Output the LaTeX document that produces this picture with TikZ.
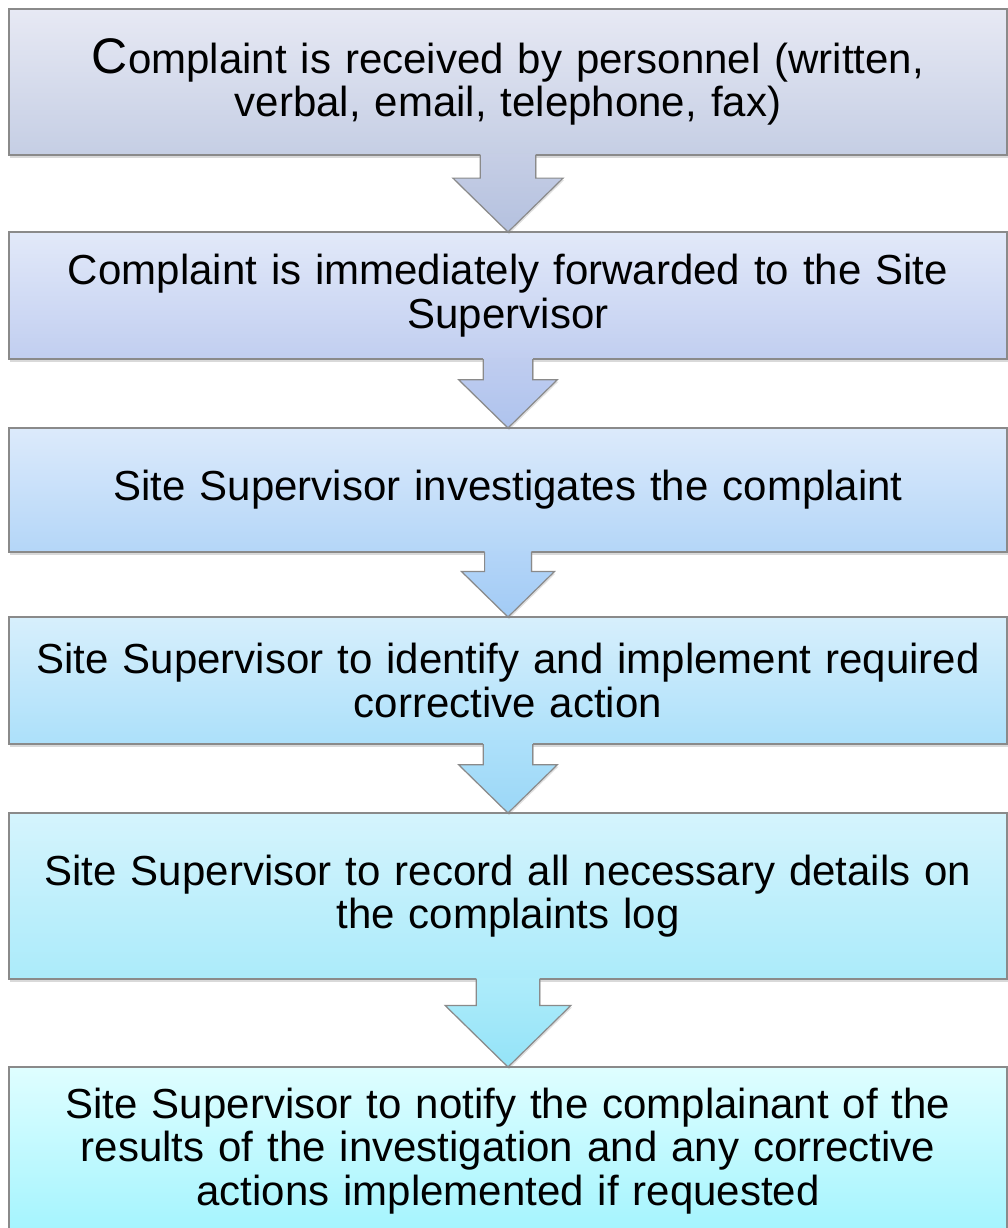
\documentclass[tikz,border=0pt]{standalone}
\usepackage{fontspec}
\setmainfont{Liberation Sans}
\usetikzlibrary{positioning, calc, shadows}
\definecolor{boxline}{HTML}{8A8A8A}
\definecolor{topA}{HTML}{E7E9F4}
\definecolor{botA}{HTML}{C5CEE4}
\definecolor{topB}{HTML}{E2E9F9}
\definecolor{botB}{HTML}{C1CEF0}
\definecolor{topC}{HTML}{DCEAFB}
\definecolor{botC}{HTML}{B4D6F8}
\definecolor{topD}{HTML}{D7EFFC}
\definecolor{botD}{HTML}{ACE0FA}
\definecolor{topE}{HTML}{D5F4FD}
\definecolor{botE}{HTML}{ABEBFA}
\definecolor{topF}{HTML}{DFFEFF}
\definecolor{botF}{HTML}{A3F4FE}
\definecolor{arrtop1}{HTML}{C6CEE5}
\definecolor{arrbot1}{HTML}{B4C1DF}
\definecolor{arrtop2}{HTML}{C0CDEF}
\definecolor{arrbot2}{HTML}{AEC3EE}
\definecolor{arrtop3}{HTML}{B4D5F8}
\definecolor{arrbot3}{HTML}{A2CBF5}
\definecolor{arrtop4}{HTML}{ADE0FA}
\definecolor{arrbot4}{HTML}{9BD7F7}
\definecolor{arrtop5}{HTML}{AEECFA}
\definecolor{arrbot5}{HTML}{94E3F8}
\tikzset{
  procbox/.style = {draw=boxline, line width=0.6pt, outer sep=0pt,
                    minimum width=499pt, text width=497pt, inner xsep=1pt,
                    align=center, font=\fontsize{21}{21.75}\selectfont,
                    drop shadow={opacity=0.3, shadow xshift=0.6pt, shadow yshift=-1.6pt}},
  procA/.style = {procbox, top color=topA, bottom color=botA, minimum height=73pt},
  procB/.style = {procbox, top color=topB, bottom color=botB, minimum height=63.5pt},
  procC/.style = {procbox, top color=topC, bottom color=botC, minimum height=62pt},
  procD/.style = {procbox, top color=topD, bottom color=botD, minimum height=63.5pt},
  procE/.style = {procbox, top color=topE, bottom color=botE, minimum height=83pt},
  procF/.style = {procbox, top color=topF, bottom color=botF, minimum height=84pt},
  downline/.style = {draw=boxline, line width=0.6pt, line join=miter},
}

\begin{document}
\begin{tikzpicture}
    \useasboundingbox (0,0) rectangle (504pt,-614pt);
    \node[procA, anchor=north west] (recv) at (4.5pt,-4.5pt)
        {{\fontsize{25}{21.75}\selectfont C}omplaint is received by personnel (written,\\ verbal, email, telephone, fax)};
    \node[procB, below=38.5pt of recv] (fwd)
        {Complaint is immediately forwarded to the Site\\ Supervisor};
    \node[procC, below=34.5pt of fwd] (inv)
        {Site Supervisor investigates the complaint};
    \node[procD, below=32.5pt of inv] (act)
        {Site Supervisor to identify and implement required\\ corrective action};
    \node[procE, below=34.5pt of act] (rec)
        {Site Supervisor to record all necessary details on\\ the complaints log};
    \node[procF, below=44pt of rec] (ntfy)
        {Site Supervisor to notify the complainant of the\\ results of the investigation and any corrective\\ actions implemented if requested};
    % block arrows between the steps
    \foreach \a/\b [count=\i] in {recv/fwd, fwd/inv, inv/act, act/rec, rec/ntfy} {
        \shade[top color=arrtop\i, bottom color=arrbot\i,
               drop shadow={opacity=0.25, shadow xshift=0.5pt, shadow yshift=-1pt}]
            let \p1=(\a.south), \p2=(\b.north), \n1={\y1-\y2} in
            (\x1-0.36*\n1, \y1+0.5pt) -- (\x1-0.36*\n1, \y1-0.3*\n1)
            -- (\x1-0.715*\n1, \y1-0.3*\n1) -- (\x1, \y2)
            -- (\x1+0.715*\n1, \y1-0.3*\n1) -- (\x1+0.36*\n1, \y1-0.3*\n1)
            -- (\x1+0.36*\n1, \y1+0.5pt) -- cycle;
        \draw[downline]
            let \p1=(\a.south), \p2=(\b.north), \n1={\y1-\y2} in
            (\x1-0.36*\n1, \y1) -- (\x1-0.36*\n1, \y1-0.3*\n1)
            -- (\x1-0.715*\n1, \y1-0.3*\n1) -- (\x1, \y2)
            -- (\x1+0.715*\n1, \y1-0.3*\n1) -- (\x1+0.36*\n1, \y1-0.3*\n1)
            -- (\x1+0.36*\n1, \y1);
    }
\end{tikzpicture}
\end{document}
